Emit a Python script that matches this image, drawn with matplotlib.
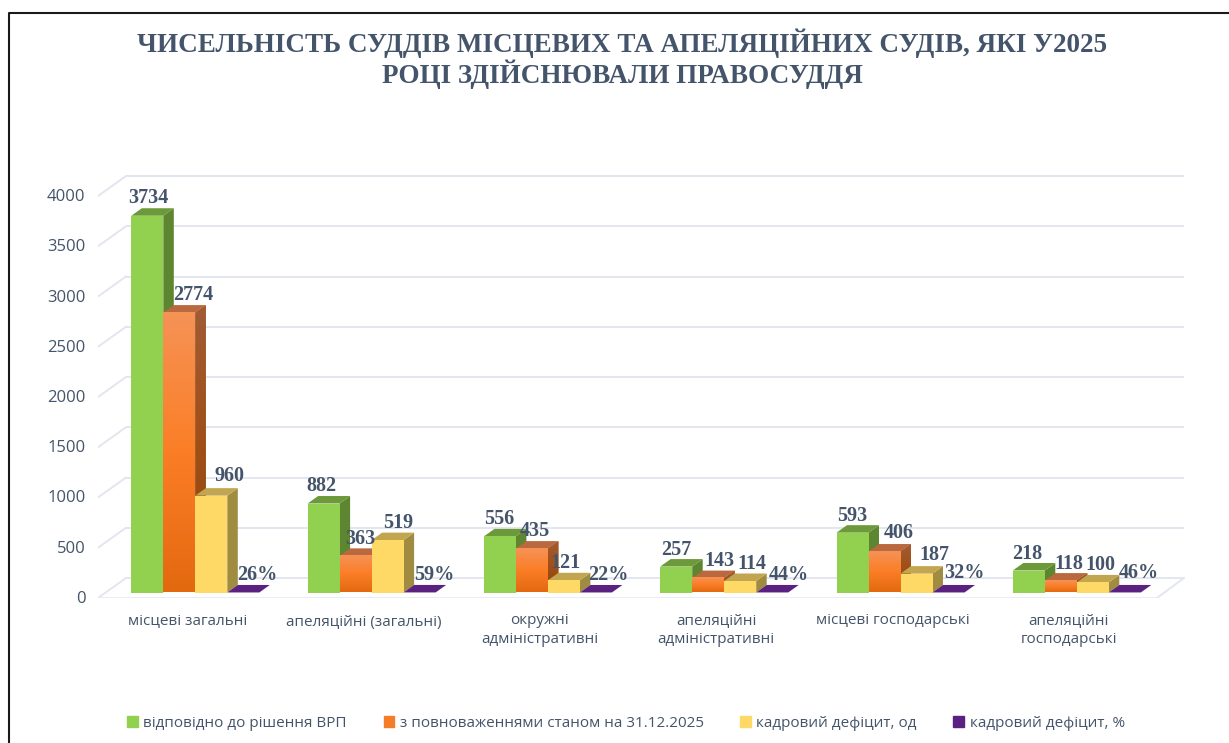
import matplotlib
matplotlib.use('Agg')
import matplotlib.pyplot as plt
import numpy as np
from matplotlib.colors import LinearSegmentedColormap
from matplotlib.lines import Line2D
from matplotlib.patches import Patch
from matplotlib.transforms import Affine2D

categories = ['місцеві загальні', 'апеляційні (загальні)', 'окружні\nадміністративні',
              'апеляційні\nадміністративні', 'місцеві господарські', 'апеляційні\nгосподарські']
series_names = ['відповідно до рішення ВРП', 'з повноваженнями станом на 31.12.2025',
                'кадровий дефіцит, од', 'кадровий дефіцит, %']
vrp = [3734, 882, 556, 257, 593, 218]
powers = [2774, 363, 435, 143, 406, 118]
deficit = [960, 519, 121, 114, 187, 100]
deficit_pct = [26, 59, 22, 44, 32, 46]
y_ticks = [0, 500, 1000, 1500, 2000, 2500, 3000, 3500, 4000]

title = 'ЧИСЕЛЬНІСТЬ СУДДІВ МІСЦЕВИХ ТА АПЕЛЯЦІЙНИХ СУДІВ, ЯКІ У2025\nРОЦІ ЗДІЙСНЮВАЛИ ПРАВОСУДДЯ'

# label shifts in pixels from the centre of each bar top, (dx, dy) per group
label_dx = [[1, 14, 18, 14], [-2, 5, 11, 15], [-1, 3, 2, 12],
            [0, 11, 12, 17], [0, 14, 18, 16], [-2, 8, 8, 14]]
label_dy = [[18, 18, 20, 17], [18, 17, 17, 17], [17, 18, 17, 17],
            [17, 17, 17, 17], [17, 19, 19, 19], [17, 17, 17, 19]]

W, H = 1229, 743
TEXT = '#44546A'
GRID = '#E3E6EE'
front = ['#92D14F', '#F57D28', '#FFD966', '#5B2180']
top = ['#6C9A3A', '#BA683D', '#C2A64F', '#5B2180']
side = ['#5E8530', '#9C5426', '#A08C40', '#5B2180']

fig = plt.figure(figsize=(W / 100, H / 100), dpi=100, facecolor='white')

# plot box in pixels
px_left, px_right, px_bottom, px_top = 98, 1185, 598, 170
ax = fig.add_axes([px_left / W, 1 - px_bottom / H, (px_right - px_left) / W, (px_bottom - px_top) / H])

group_px = 176.3
bar_px = 32
y_scale = 0.1009   # px per unit on the bars plane
base_px = 592.5
centre_px = 195.3


def x_of(px):
    return (px - centre_px) / group_px


def y_of(px):
    return (base_px - px) / y_scale


xlim = (x_of(px_left), x_of(px_right))
ylim = (y_of(px_bottom), y_of(px_top))

# walls: grid lines on the back and the short diagonals on the left
for t in y_ticks:
    back = y_of(578 - 0.1005 * t)
    fr = y_of(598 - 0.1005 * t)
    ax.plot([x_of(126), x_of(1184)], [back, back], color=GRID, lw=1.4, zorder=1, solid_capstyle='butt')
    ax.plot([x_of(98), x_of(126)], [fr, back], color=GRID, lw=1.4, zorder=1)
ax.plot([x_of(98), x_of(1157)], [y_of(598), y_of(598)], color=GRID, lw=1.8, zorder=1)
ax.plot([x_of(1157), x_of(1184)], [y_of(598), y_of(578)], color=GRID, lw=1.4, zorder=1)

w = bar_px / group_px
dx = 10.5 / group_px
dy = 7.5 / y_scale
orange_cmap = LinearSegmentedColormap.from_list('o', ['#F69256', '#FB7E26', '#E3690F'])
side_cmap = LinearSegmentedColormap.from_list('s', ['#A05C34', '#A04F17', '#8E4410'])
data = [vrp, powers, deficit, [p / 100 for p in deficit_pct]]
grad = np.linspace(0, 1, 64).reshape(-1, 1)

z = 2
for g in range(len(categories)):
    for s in range(4):
        val = data[s][g]
        x0 = g + (s - 2) * w
        x1 = x0 + w
        # right side, top, front
        poly = ax.fill([x1, x1 + dx, x1 + dx, x1], [0, dy, val + dy, val], color=side[s], lw=0, zorder=z)[0]
        ax.fill([x0, x1, x1 + dx, x0 + dx], [val, val, val + dy, val + dy], color=top[s], lw=0, zorder=z + 1)
        if s == 1:
            im = ax.imshow(grad, extent=(x1, x1 + dx, 0, val + dy), aspect='auto', cmap=side_cmap,
                           origin='upper', zorder=z)
            im.set_clip_path(poly)
            ax.imshow(grad, extent=(x0, x1, 0, val), aspect='auto', cmap=orange_cmap, origin='upper', zorder=z + 2)
        elif s < 3:
            ax.bar(x0, val, width=w, align='edge', color=front[s], lw=0, zorder=z + 2)
        z += 3

for g in range(len(categories)):
    for s in range(4):
        txt = f'{deficit_pct[g]}%' if s == 3 else str(data[s][g])
        ax.annotate(txt, (g + (s - 1.5) * w, data[s][g]), xytext=(label_dx[g][s], label_dy[g][s]),
                    textcoords='offset pixels', ha='center', va='center', color=TEXT,
                    family='Liberation Serif', weight='bold', fontsize=14.5, zorder=500)

ax.set_xlim(xlim)
ax.set_ylim(ylim)
for sp in ax.spines.values():
    sp.set_visible(False)
ax.patch.set_alpha(0)

ax.set_yticks([y_of(597 - 0.1005 * t) for t in y_ticks])
ax.set_yticklabels([str(t) for t in y_ticks], color=TEXT, family='Open Sans', fontsize=12)
ax.set_xticks([g - 8 / group_px for g in range(len(categories))])
ax.set_xticklabels(categories, color=TEXT, family='Open Sans', fontsize=11, linespacing=1.42)
ax.tick_params(axis='y', length=0, pad=9)
ax.tick_params(axis='x', length=0, pad=10.5)
# parentheses make this one sit higher than its neighbours
lab = ax.get_xticklabels()[1]
lab.set_transform(lab.get_transform() + Affine2D().translate(0, -2))

fig.text(622 / W, 1 - 58.5 / H, title, ha='center', va='center', color=TEXT, family='Liberation Serif',
         weight='bold', fontsize=19.5, linespacing=1.05)

handles = [Patch(color=c) for c in ['#92D14F', '#F57D28', '#FFD966', '#5B2180']]
fig.legend(handles, series_names, loc='center', bbox_to_anchor=(626 / W, 1 - 723.5 / H), ncol=4, frameon=False,
           prop={'family': 'Open Sans', 'size': 11}, labelcolor=TEXT, handlelength=0.7, handleheight=0.7,
           handletextpad=0.35, columnspacing=2.4)

# frame of the screenshot, only top and left show
fig.add_artist(Line2D([9 / W, 9 / W, 1], [0, 1 - 13 / H, 1 - 13 / H], color='#1A1A1A', lw=1.5,
                      transform=fig.transFigure))

fig.savefig('out.png', dpi=100)
